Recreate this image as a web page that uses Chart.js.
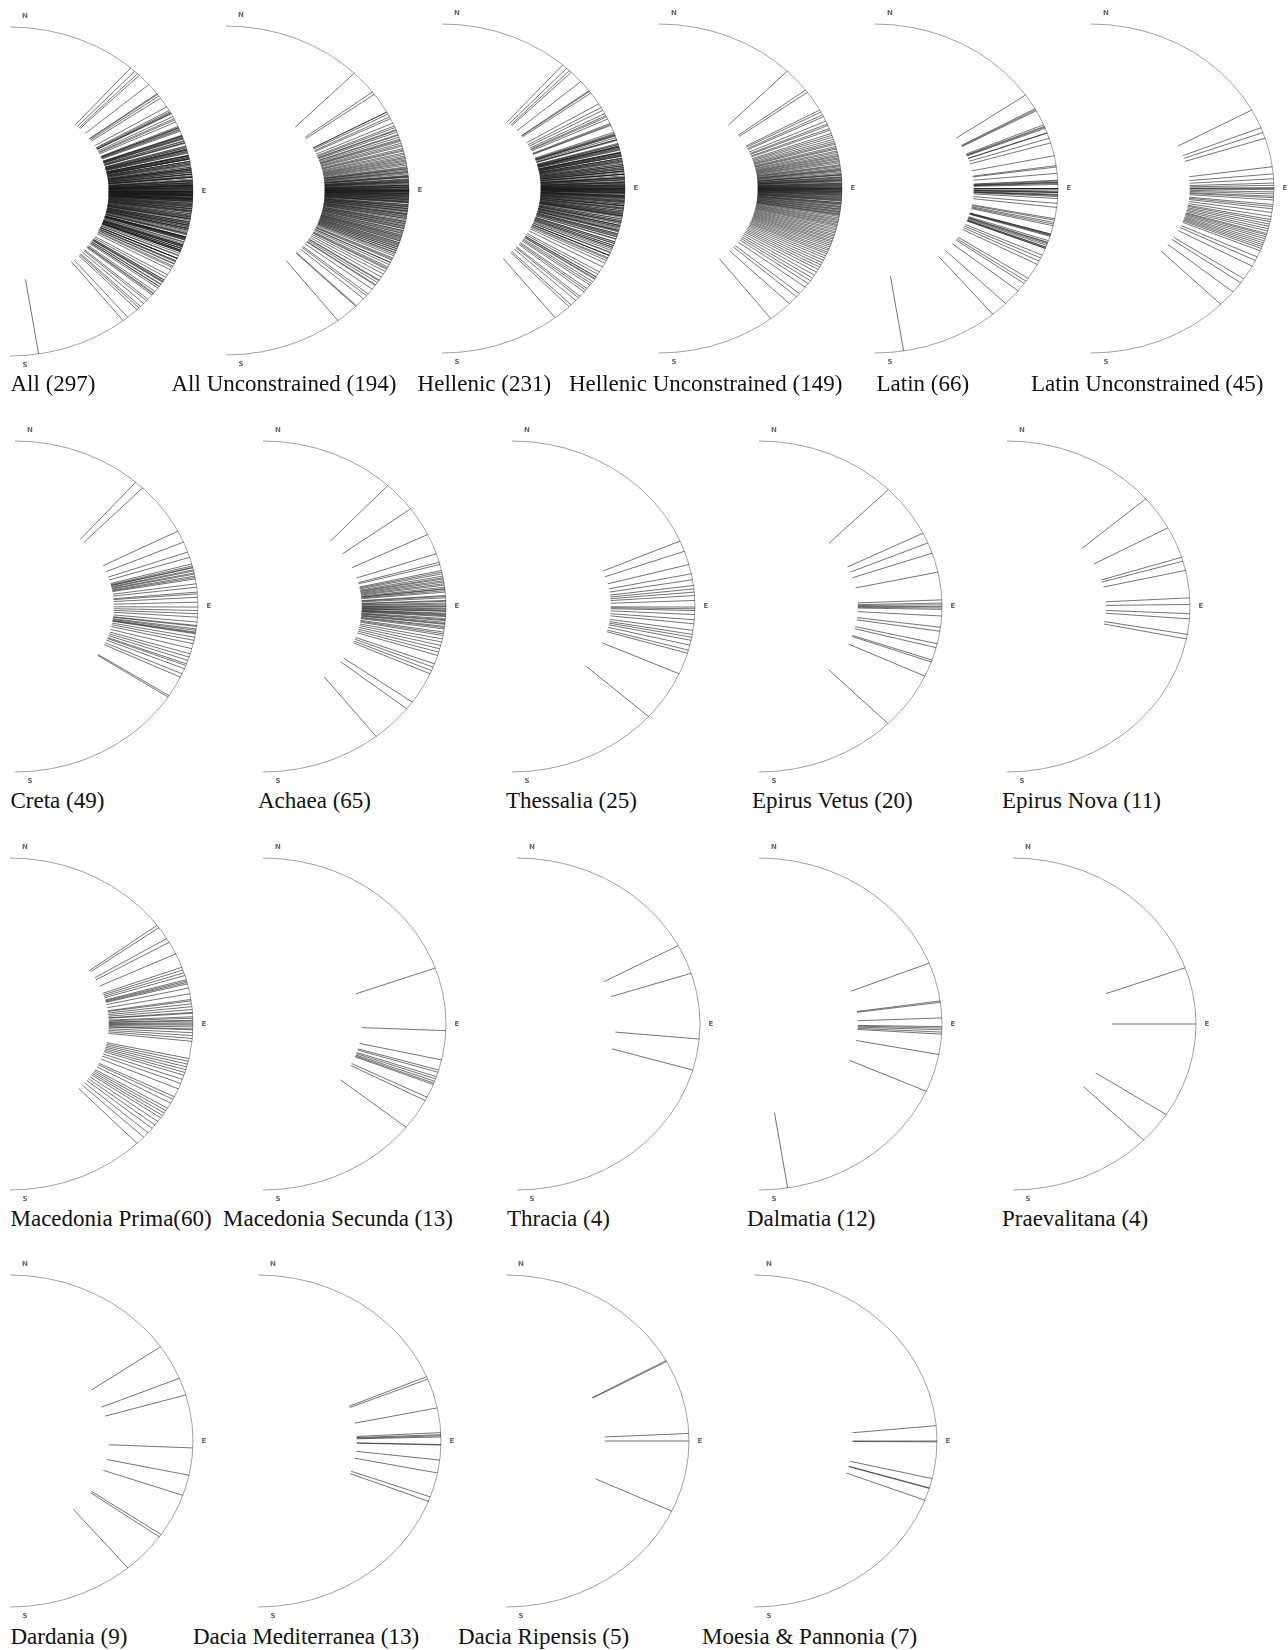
<!DOCTYPE html>
<html>
<head>
<meta charset="utf-8">
<script src="https://cdn.jsdelivr.net/npm/chart.js@4.4.1/dist/chart.umd.min.js"></script>
<style>
  html, body { margin: 0; padding: 0; background: #fff; }
  #page { position: relative; width: 1288px; height: 1650px; overflow: hidden; background: #fff; }
  #page canvas { position: absolute; }
  .title {
    position: absolute; white-space: nowrap; line-height: 1;
    font-family: "Liberation Serif", "DejaVu Serif", serif; font-size: 23px; color: #111;
  }
</style>
</head>
<body>
<div id="page"></div>
<script>
// Church axis azimuths, degrees clockwise from north, per province
const creta = [41.3, 44.2, 62.9, 67.1, 70.8, 72.7, 75.1, 75.8, 76.3, 76.5, 77.2, 77.6, 78.3, 78.7, 79.4, 79.9,
  80.4, 82.1, 83.3, 85.0, 85.6, 86.8, 88.5, 90.2, 91.4, 92.5, 93.7, 95.4, 96.6, 96.9, 97.8, 98.3, 98.9, 99.2,
  99.5, 100.7, 101.8, 103.0, 104.8, 106.6, 107.8, 109.0, 110.3, 110.9, 112.1, 114.0, 115.3, 122.6, 123.2];
const achaea = [43.0, 53.8, 64.2, 71.4, 74.5, 75.3, 77.4, 78.0, 78.6, 79.4, 80.4, 81.0, 82.1, 83.3, 84.5, 85.0,
  86.2, 87.0, 87.9, 88.8, 89.7, 90.5, 91.2, 91.7, 92.3, 92.9, 93.5, 94.2, 94.9, 95.5, 96.2, 96.9, 97.8, 98.9,
  100.1, 101.3, 102.4, 103.6, 104.8, 106.0, 107.2, 110.3, 111.5, 112.8, 114.0, 125.3, 128.2, 141.8,
  80.0, 81.5, 82.6, 83.8, 84.0, 86.5, 88.2, 89.2, 90.0, 90.8, 91.5, 92.6, 93.2, 94.6, 95.9, 97.3, 99.5];
const thessalia = [66.7, 70.5, 75.3, 78.6, 80.7, 82.7, 83.9, 85.0, 86.2, 87.9, 90.2, 90.8, 91.4, 92.8, 94.6,
  96.0, 98.3, 99.7, 100.7, 101.8, 103.5, 105.3, 106.4, 114.0, 131.7];
const epirusVetus = [45.0, 63.7, 67.4, 71.2, 78.0, 87.7, 88.8, 89.4, 90.0, 90.5, 91.0, 93.3, 97.2, 98.6, 103.0,
  104.4, 108.9, 109.6, 114.9, 135.1];
const epirusNova = [49.4, 61.6, 72.7, 74.1, 77.4, 87.0, 89.3, 92.5, 94.3, 99.7, 101.3];
const macedoniaPrima = [53.5, 54.5, 59.0, 60.5, 65.0, 70.0, 71.0, 72.0, 73.0, 74.5, 75.0, 75.5, 76.0, 77.5, 79.5,
  81.5, 82.0, 83.0, 84.0, 85.0, 86.0, 86.3, 87.5, 88.0, 88.7, 89.0, 89.6, 90.0, 90.4, 91.0, 91.7, 92.0, 93.0,
  94.0, 95.0, 96.0, 102.0, 103.0, 104.0, 105.0, 106.0, 107.0, 108.0, 109.5, 111.0, 113.0, 116.0, 117.0, 118.5,
  120.5, 121.5, 122.5, 123.5, 124.5, 126.0, 127.5, 129.0, 131.0, 133.0, 136.0];
const macedoniaSecunda = [70.3, 92.3, 102.5, 106.1, 106.9, 108.5, 109.3, 110.2, 110.9, 111.4, 116.2, 117.5, 128.5];
const thracia = [61.8, 72.2, 95.2, 106.1];
const dalmatia = [68.5, 82.0, 82.5, 87.9, 90.9, 91.4, 92.0, 92.8, 93.5, 100.6, 113.9, 171.0];
const praevalitana = [70.2, 90.0, 123.1, 134.4];
const dardania = [55.4, 67.8, 73.9, 92.4, 101.9, 109.1, 124.3, 125.3, 139.9];
const daciaMediterranea = [67.2, 68.1, 78.5, 87.1, 87.8, 88.2, 88.6, 91.2, 91.4, 96.6, 101.1, 109.7, 111.3];
const daciaRipensis = [61.0, 61.4, 87.4, 90.0, 115.0];
const moesiaPannonia = [84.7, 90.0, 90.3, 103.1, 106.4, 106.6, 110.9];

// Churches whose orientation was not constrained by the terrain
const hellenicUnconstrained = [44.5, 53.2, 54.2, 61.5, 62.3, 63.4, 64.1, 65.8, 66.9, 67.5, 68.6, 69.2,
  70.4, 71.1, 71.8, 72.6, 73.3, 73.9, 74.4, 75.2, 75.7, 76.1, 76.8, 77.3, 77.9, 78.4, 78.8, 79.3, 79.7,
  80.2, 80.6, 81.1, 81.7, 82.0, 82.4, 82.9, 83.3, 83.8, 84.2, 84.7, 85.1, 85.4, 85.9, 86.3, 86.6, 87.0, 87.4,
  87.7, 88.1, 88.4, 88.8, 89.1, 89.4, 89.7,
  90.0, 90.2, 90.5, 90.7, 91.0, 91.3, 91.6, 91.9, 92.2, 92.6, 92.9, 93.3, 93.6, 94.0, 94.4, 94.9, 95.3, 95.8,
  96.2, 96.7, 97.1, 97.6, 98.0, 98.5, 98.9, 99.4, 99.8,
  100.3, 100.8, 101.2, 101.7, 102.1, 102.6, 103.0, 103.5, 104.1, 104.6, 105.2, 105.7, 106.3, 106.8, 107.4,
  107.9, 108.5, 109.0, 109.6,
  110.2, 110.8, 111.5, 112.1, 112.8, 113.4, 114.2, 115.0, 115.9, 116.8, 117.7, 118.6, 119.5,
  120.6, 121.8, 123.0, 124.1, 125.3, 126.9, 129.8, 131.2, 134.5, 142.3,
  85.2, 86.1, 86.9, 87.2, 88.2, 88.6, 89.0, 89.5, 89.9, 90.1, 90.4, 90.9, 91.1, 91.5, 92.0, 92.4, 93.1, 93.8,
  94.2, 95.0, 95.5, 96.4, 97.3, 98.2, 99.1, 83.5];
const latinUnconstrained = [61.5, 68.3, 70.1, 72.2, 82.4, 84.9, 86.6, 88.1, 88.9, 89.7, 90.0, 90.4, 91.2, 91.9,
  92.7, 94.0, 95.6, 97.1, 98.4, 99.8, 100.9, 101.6, 102.5, 103.3, 104.2, 105.0, 105.9, 106.4, 107.1, 107.8,
  108.6, 109.3, 110.0, 110.7, 111.4, 112.3, 114.6, 116.0, 118.2, 123.3, 125.0, 129.0, 134.8, 93.2, 96.3];

// Groupings built from the provinces
const hellenic = [].concat(creta, achaea, thessalia, epirusVetus, epirusNova, macedoniaPrima);
const latin = [].concat(macedoniaSecunda, thracia, dalmatia, praevalitana, dardania,
  daciaMediterranea, daciaRipensis, moesiaPannonia);
const allChurches = hellenic.concat(latin);
const allUnconstrained = hellenicUnconstrained.concat(latinUnconstrained);

// Panel captions and the series each panel shows, in reading order
const panelTitles = [
  "All (297)", "All Unconstrained (194)", "Hellenic (231)", "Hellenic Unconstrained (149)", "Latin (66)",
  "Latin Unconstrained (45)",
  "Creta (49)", "Achaea (65)", "Thessalia (25)", "Epirus Vetus (20)", "Epirus Nova (11)",
  "Macedonia Prima(60)", "Macedonia Secunda (13)", "Thracia (4)", "Dalmatia (12)", "Praevalitana (4)",
  "Dardania (9)", "Dacia Mediterranea (13)", "Dacia Ripensis (5)", "Moesia & Pannonia (7)"
];
const panelSeries = [
  allChurches, allUnconstrained, hellenic, hellenicUnconstrained, latin, latinUnconstrained,
  creta, achaea, thessalia, epirusVetus, epirusNova,
  macedoniaPrima, macedoniaSecunda, thracia, dalmatia, praevalitana,
  dardania, daciaMediterranea, daciaRipensis, moesiaPannonia
];
const compassLetters = ["N", "E", "S"];

// Page layout: circle centre, vertical radius, caption position
const layoutRows = [
  { cy: [191, 190.5, 188, 188, 188, 188], ry: 164.5, base: 391,
    cx: [10, 226, 442, 659, 875, 1091], tx: [10.5, 171.5, 417.6, 569, 876.5, 1031] },
  { cy: [606, 606, 606, 606, 606], ry: 165.5, base: 808,
    cx: [15, 263, 512, 759, 1007], tx: [10.5, 258, 506, 752, 1002] },
  { cy: [1023.5, 1023.5, 1023.5, 1023.5, 1023.5], ry: 166, base: 1226,
    cx: [10, 263, 517, 759, 1013], tx: [10.5, 223, 507, 747, 1002] },
  { cy: [1441, 1441, 1441, 1441], ry: 166, base: 1644,
    cx: [10, 258, 506, 754], tx: [10.5, 193, 458, 702] }
];
const RX = 183;          // horizontal radius in px
const INNER = 0.54;      // inner end of each direction ray, as a fraction of the radius
const PAD = { left: 4, right: 20, top: 16, bottom: 16 };

// Draws the half-circle frame and its compass letters behind the rays
const compassFrame = {
  id: 'compassFrame',
  beforeDatasetsDraw(chart) {
    const { ctx, scales: { x, y } } = chart;
    const x0 = x.getPixelForValue(0), y0 = y.getPixelForValue(0);
    const rxp = x.getPixelForValue(1) - x0, ryp = y0 - y.getPixelForValue(1);
    ctx.save();
    ctx.beginPath();
    ctx.ellipse(x0, y0, rxp, ryp, 0, -Math.PI / 2, Math.PI / 2);
    ctx.strokeStyle = '#a0a0a0';
    ctx.lineWidth = 1;
    ctx.stroke();
    ctx.fillStyle = '#666';
    ctx.font = 'bold 7px "DejaVu Sans", sans-serif';
    ctx.textAlign = 'center';
    ctx.textBaseline = 'middle';
    ctx.fillText(compassLetters[0], x0 + 15, y0 - ryp - 11);
    ctx.fillText(compassLetters[1], x0 + rxp + 11, y0);
    ctx.fillText(compassLetters[2], x0 + 15, y0 + ryp + 9);
    ctx.restore();
  }
};

const page = document.getElementById('page');
let panelIndex = 0;

function rayDatasets(azimuths) {
  return azimuths.map(a => {
    const t = a * Math.PI / 180;
    return {
      data: [
        { x: INNER * Math.sin(t), y: INNER * Math.cos(t) },
        { x: Math.sin(t), y: Math.cos(t) }
      ],
      showLine: true,
      borderColor: 'rgba(25,25,25,0.6)',
      borderWidth: 1,
      pointRadius: 0,
      pointHoverRadius: 0,
      clip: false
    };
  });
}

layoutRows.forEach(row => {
  row.cx.forEach((cx, i) => {
    const idx = panelIndex++;
    const cy = row.cy[i], ry = row.ry;
    const canvas = document.createElement('canvas');
    canvas.width = RX + PAD.left + PAD.right;
    canvas.height = Math.round(2 * ry) + PAD.top + PAD.bottom;
    canvas.style.left = Math.round(cx - PAD.left) + 'px';
    canvas.style.top = Math.round(cy - ry - PAD.top) + 'px';
    page.appendChild(canvas);

    new Chart(canvas, {
      type: 'scatter',
      data: { datasets: rayDatasets(panelSeries[idx]) },
      options: {
        responsive: false,
        animation: false,
        devicePixelRatio: 1,
        events: [],
        layout: { padding: PAD },
        scales: {
          x: { type: 'linear', min: 0, max: 1, display: false },
          y: { type: 'linear', min: -1, max: 1, display: false }
        },
        plugins: { legend: { display: false }, tooltip: { enabled: false } }
      },
      plugins: [compassFrame]
    });

    const cap = document.createElement('div');
    cap.className = 'title';
    cap.textContent = panelTitles[idx];
    cap.style.left = row.tx[i] + 'px';
    cap.style.top = (row.base - 19) + 'px';
    page.appendChild(cap);
  });
});
</script>
</body>
</html>
